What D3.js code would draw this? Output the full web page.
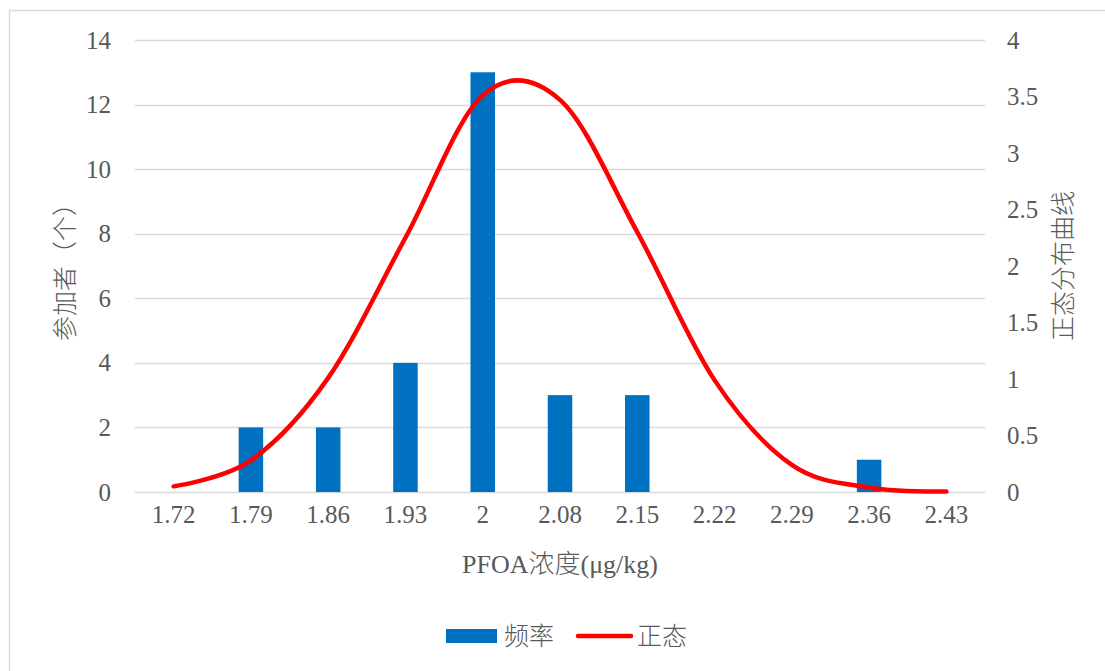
<!DOCTYPE html>
<html>
<head>
<meta charset="utf-8">
<script src="https://cdn.jsdelivr.net/npm/d3@7"></script>
<style>
  html, body { margin: 0; padding: 0; background: #fff; }
  svg { display: block; }
</style>
</head>
<body>
<svg id="chart" width="1105" height="671"></svg>
<script>
// PFOA concentration bins (µg/kg)
const categories = ["1.72", "1.79", "1.86", "1.93", "2", "2.08", "2.15", "2.22", "2.29", "2.36", "2.43"];
// number of participants per bin
const frequency = [0, 2, 2, 4, 13, 3, 3, 0, 0, 1, 0];
// normal distribution density at each bin
const normalCurve = [0.05, 0.28, 1.01, 2.25, 3.51, 3.47, 2.3, 0.99, 0.24, 0.04, 0.005];
const leftTicks = [0, 2, 4, 6, 8, 10, 12, 14];
const rightTicks = [0, 0.5, 1, 1.5, 2, 2.5, 3, 3.5, 4];

const FONT = "'Liberation Serif', 'Noto Sans CJK SC', serif";
const TXT = "#595959";
const FS = 25;

const svg = d3.select("#chart");
const W = 1105, H = 671;
const plot = { left: 135, right: 985, top: 40, bottom: 492 };

// outer chart frame
svg.append("rect")
  .attr("x", 9.5).attr("y", 10.5)
  .attr("width", W + 20).attr("height", H + 20)
  .attr("fill", "none").attr("stroke", "#d9d9d9").attr("stroke-width", 1.5);

const x = d3.scaleBand().domain(categories).range([plot.left, plot.right]).paddingInner(0).paddingOuter(0);
const yL = d3.scaleLinear().domain([0, 14]).range([plot.bottom, plot.top]);
const yR = d3.scaleLinear().domain([0, 4]).range([plot.bottom, plot.top]);

// horizontal gridlines
svg.append("g").selectAll("line").data(leftTicks).join("line")
  .attr("x1", plot.left).attr("x2", plot.right)
  .attr("y1", d => Math.round(yL(d)) + 0.5).attr("y2", d => Math.round(yL(d)) + 0.5)
  .attr("stroke", "#d9d9d9").attr("stroke-width", 1.3);

function styleAxis(g) {
  g.attr("font-family", FONT).attr("font-size", FS);
  g.select(".domain").remove();
  g.selectAll("text")
    .attr("fill", TXT)
    .attr("font-family", FONT)
    .attr("font-size", FS)
    .style("font-family", FONT);
}

// left axis labels
const axisL = d3.axisLeft(yL).tickValues(leftTicks).tickSize(0).tickPadding(0).tickFormat(d => d);
svg.append("g").attr("transform", `translate(${plot.left - 24},0)`).call(axisL).call(styleAxis);

// right axis labels
const axisR = d3.axisRight(yR).tickValues(rightTicks).tickSize(0).tickPadding(0).tickFormat(d => d);
svg.append("g").attr("transform", `translate(${plot.right + 22},0)`).call(axisR).call(styleAxis);

// bottom axis labels
const axisB = d3.axisBottom(x).tickSize(0).tickPadding(0);
svg.append("g").attr("transform", `translate(0,${plot.bottom + 13})`).call(axisB).call(styleAxis);

// frequency bars
const barW = 24.5;
svg.append("g").selectAll("rect").data(frequency).join("rect")
  .attr("x", (d, i) => x(categories[i]) + x.bandwidth() / 2 - barW / 2)
  .attr("width", barW)
  .attr("y", d => yL(d))
  .attr("height", d => yL(0) - yL(d))
  .attr("fill", "#0070C0");

// normal distribution curve
const line = d3.line()
  .x((d, i) => x(categories[i]) + x.bandwidth() / 2)
  .y(d => yR(d))
  .curve(d3.curveCatmullRom.alpha(0));
svg.append("path").datum(normalCurve)
  .attr("d", line)
  .attr("fill", "none").attr("stroke", "#FF0000")
  .attr("stroke-width", 4.5).attr("stroke-linecap", "round").attr("stroke-linejoin", "round");

function label(sel) {
  return sel.attr("font-family", FONT).style("font-family", FONT)
    .attr("font-size", FS).attr("fill", TXT).attr("font-weight", 300);
}

// axis titles
svg.append("text").call(label)
  .attr("transform", `translate(74,${(plot.top + plot.bottom) / 2}) rotate(-90)`)
  .attr("text-anchor", "middle")
  .text("参加者（个）");

svg.append("text").call(label)
  .attr("transform", `translate(1072,${(plot.top + plot.bottom) / 2}) rotate(-90)`)
  .attr("text-anchor", "middle")
  .text("正态分布曲线");

svg.append("text").call(label)
  .attr("x", 560).attr("y", 573)
  .attr("font-size", 26)
  .attr("text-anchor", "middle")
  .text("PFOA浓度(μg/kg)");

// legend
const lg = svg.append("g");
lg.append("rect").attr("x", 446).attr("y", 629).attr("width", 51).attr("height", 14).attr("fill", "#0070C0");
lg.append("text").call(label).attr("x", 504).attr("y", 645).text("频率");
lg.append("line").attr("x1", 578).attr("x2", 631).attr("y1", 636).attr("y2", 636)
  .attr("stroke", "#FF0000").attr("stroke-width", 4.5).attr("stroke-linecap", "round");
lg.append("text").call(label).attr("x", 637).attr("y", 645).text("正态");
</script>
</body>
</html>
